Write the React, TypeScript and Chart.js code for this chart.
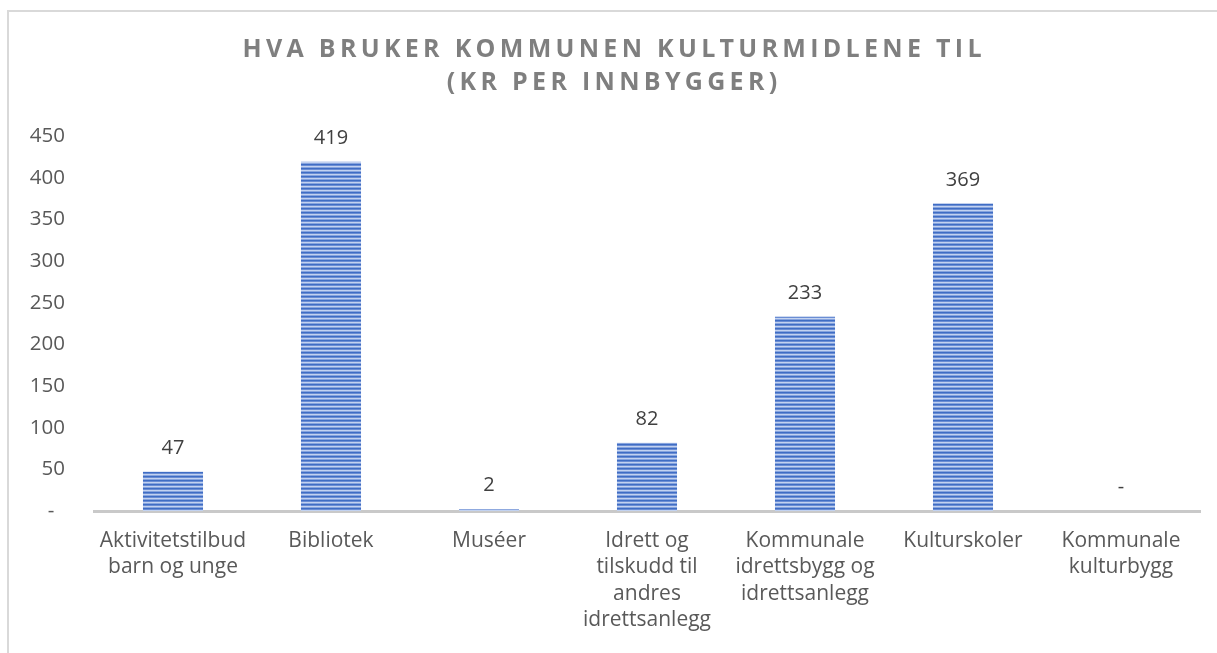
import React, { useEffect, useRef } from "react";
import { Chart, registerables } from "chart.js";

Chart.register(...registerables);

const categories: string[][] = [
  ["Aktivitetstilbud", "barn og unge"],
  ["Bibliotek"],
  ["Muséer"],
  ["Idrett og", "tilskudd til", "andres", "idrettsanlegg"],
  ["Kommunale", "idrettsbygg og", "idrettsanlegg"],
  ["Kulturskoler"],
  ["Kommunale", "kulturbygg"],
];
const values: number[] = [47, 419, 2, 82, 233, 369, 0];
const titleLines: string[] = ["HVA BRUKER KOMMUNEN KULTURMIDLENE TIL", "(KR PER INNBYGGER)"];
const yMin = 0;
const yMax = 450;
const yStep = 50;

const FONT = "'Open Sans', 'DejaVu Sans', sans-serif";

function makePattern(): CanvasPattern | string {
  const c = document.createElement("canvas");
  c.width = 4;
  c.height = 4;
  const g = c.getContext("2d");
  if (!g) return "#4472C4";
  const rows = ["#3f6dc4", "#6a8dd4", "#c2d2f0", "#87a4de"];
  rows.forEach((col, i) => {
    g.fillStyle = col;
    g.fillRect(0, i, 4, 1);
  });
  const p = g.createPattern(c, "repeat");
  return p || "#4472C4";
}

const titlePlugin = {
  id: "spacedTitle",
  afterDraw(chart: any) {
    const ctx = chart.ctx as CanvasRenderingContext2D;
    ctx.save();
    ctx.font = `bold 25px ${FONT}`;
    ctx.fillStyle = "#7f7f7f";
    ctx.textBaseline = "middle";
    ctx.textAlign = "left";
    const spacing = 4.3;
    (ctx as any).letterSpacing = `${spacing}px`;
    const cx = 612;
    const ys = [50, 83];
    titleLines.forEach((line, i) => {
      const w = ctx.measureText(line).width - spacing;
      ctx.fillText(line, cx - w / 2, ys[i]);
    });
    ctx.restore();
  },
};

const dataLabelPlugin = {
  id: "barValueLabels",
  afterDatasetsDraw(chart: any) {
    const ctx = chart.ctx as CanvasRenderingContext2D;
    const meta = chart.getDatasetMeta(0);
    ctx.save();
    ctx.font = `20px ${FONT}`;
    ctx.fillStyle = "#404040";
    ctx.textAlign = "center";
    ctx.textBaseline = "alphabetic";
    meta.data.forEach((bar: any, i: number) => {
      const v = values[i];
      const text = v === 0 ? "-" : String(v);
      ctx.fillText(text, bar.x, bar.y - 18);
    });
    ctx.restore();
  },
};

export default function App() {
  const ref = useRef<HTMLCanvasElement | null>(null);

  useEffect(() => {
    if (!ref.current) return;
    const chart = new Chart(ref.current, {
      type: "bar",
      data: {
        labels: categories,
        datasets: [
          {
            data: values,
            backgroundColor: makePattern() as any,
            borderWidth: 0,
            categoryPercentage: 0.38,
            barPercentage: 1,
          },
        ],
      },
      options: {
        animation: false,
        responsive: false,
        maintainAspectRatio: false,
        layout: { padding: { top: 136, right: 17, bottom: 0, left: 0 } },
        plugins: {
          legend: { display: false },
          title: { display: false },
          tooltip: { enabled: false },
        },
        scales: {
          x: {
            grid: { display: false, drawTicks: false },
            border: { display: true, color: "#c9c9c9", width: 3 },
            ticks: {
              color: "#595959",
              font: { family: FONT, size: 21, lineHeight: 1.25 },
              padding: 17,
              maxRotation: 0,
              minRotation: 0,
              autoSkip: false,
            },
            afterFit(scale: any) {
              scale.height = 142;
            },
          },
          y: {
            min: yMin,
            max: yMax,
            grid: { display: false, drawTicks: false },
            border: { display: false },
            ticks: {
              stepSize: yStep,
              color: "#595959",
              font: { family: FONT, size: 20.5 },
              padding: 29,
              callback: (v: any) => (Number(v) === 0 ? "-  " : String(v)),
            },
            afterFit(scale: any) {
              scale.width = 94;
            },
          },
        },
      },
      plugins: [titlePlugin, dataLabelPlugin],
    });
    return () => chart.destroy();
  }, []);

  return (
    <div
      style={{
        position: "fixed",
        left: 0,
        top: 0,
        width: 1217,
        height: 653,
        background: "#ffffff",
        overflow: "hidden",
      }}
    >
      <div
        style={{
          position: "absolute",
          left: 7,
          top: 10,
          width: 1240,
          height: 700,
          borderLeft: "2px solid #d9d9d9",
          borderTop: "2px solid #d9d9d9",
          boxSizing: "border-box",
        }}
      />
      <canvas
        ref={ref}
        width={1217}
        height={653}
        style={{ position: "absolute", left: 0, top: 0, width: 1217, height: 653 }}
      />
    </div>
  );
}
